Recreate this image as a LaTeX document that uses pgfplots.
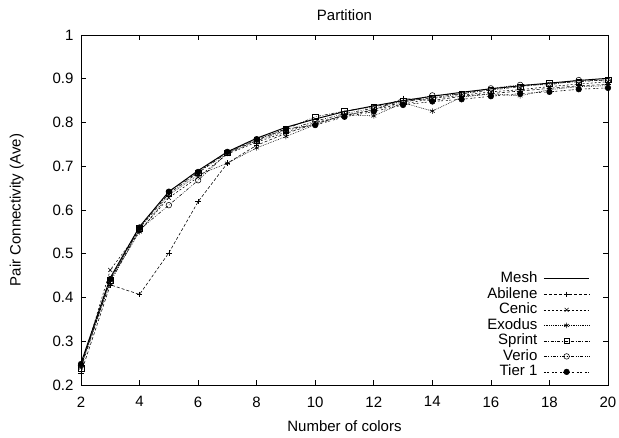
\documentclass[border=0pt]{standalone}
\usepackage{fontspec}
\setmainfont{Liberation Sans}
\usepackage{pgfplots}
\pgfplotsset{compat=1.18}
\usetikzlibrary{calc}

\begin{document}
\begin{tikzpicture}
\begin{axis}[
  scale only axis,
  width=527pt, height=350pt,
  xmin=2, xmax=20, ymin=0.2, ymax=1,
  xtick={2,4,...,20},
  ytick={0.2,0.3,0.4,0.5,0.6,0.7,0.8,0.9,1},
  /pgf/number format/assume math mode=true,
  yticklabel style={/pgf/number format/fixed, xshift=-4pt},
  xticklabel style={yshift=-8pt},
  tick label style={font=\fontsize{15}{17}\selectfont},
  label style={font=\fontsize{15}{17}\selectfont},
  title style={font=\fontsize{15}{17}\selectfont, yshift=5pt},
  title={Partition},
  xlabel={Number of colors},
  ylabel={Pair Connectivity (Ave)},
  xlabel style={yshift=-7pt},
  ylabel style={yshift=22pt},
  major tick length=5pt,
  tick style={black, line width=0.6pt},
  axis line style={line width=0.9pt},
  every axis plot/.append style={black, line width=0.55pt, mark size=2.8pt, mark options={solid}},
  legend style={draw=none, fill=none, at={(0.966,0.015)}, anchor=south east,
    font=\fontsize{15}{17}\selectfont, row sep=0.2pt, column sep=5pt, inner sep=0pt,
    nodes={inner sep=1pt, text height=10.3pt, text depth=3pt}},
  legend cell align=right,
  legend plot pos=right,
  legend image code/.code={\draw[mark repeat=2,mark phase=2] plot coordinates {(0cm,0cm) (0.8cm,0cm) (1.6cm,0cm)};},
]
% Mesh
\addplot[line width=1pt, no marks] coordinates {
 (2,0.250) (3,0.445) (4,0.562) (5,0.642) (6,0.690) (7,0.733) (8,0.764) (9,0.789) (10,0.808)
 (11,0.825) (12,0.838) (13,0.850) (14,0.860) (15,0.869) (16,0.877) (17,0.884) (18,0.890) (19,0.896) (20,0.901)};
\addlegendentry{Mesh}
% Abilene
\addplot[dash pattern=on 3pt off 2pt, mark=+] coordinates {
 (2,0.227) (3,0.429) (4,0.407) (5,0.502) (6,0.619) (7,0.707) (8,0.748) (9,0.775) (10,0.797)
 (11,0.817) (12,0.828) (13,0.855) (14,0.850) (15,0.860) (16,0.866) (17,0.872) (18,0.878) (19,0.884) (20,0.887)};
\addlegendentry{Abilene}
% Cenic
\addplot[dash pattern=on 2pt off 2pt, mark=x] coordinates {
 (2,0.240) (3,0.463) (4,0.552) (5,0.628) (6,0.675) (7,0.728) (8,0.755) (9,0.778) (10,0.800)
 (11,0.815) (12,0.830) (13,0.842) (14,0.855) (15,0.862) (16,0.870) (17,0.875) (18,0.882) (19,0.888) (20,0.893)};
\addlegendentry{Cenic}
% Exodus
\addplot[dash pattern=on 0.8pt off 1pt, mark=asterisk] coordinates {
 (2,0.245) (3,0.440) (4,0.550) (5,0.635) (6,0.680) (7,0.707) (8,0.742) (9,0.768) (10,0.795)
 (11,0.818) (12,0.815) (13,0.845) (14,0.826) (15,0.858) (16,0.865) (17,0.861) (18,0.875) (19,0.882) (20,0.884)};
\addlegendentry{Exodus}
% Sprint
\addplot[dash pattern=on 3pt off 1.5pt on 0.8pt off 1.5pt, mark=square] coordinates {
 (2,0.238) (3,0.440) (4,0.558) (5,0.638) (6,0.685) (7,0.731) (8,0.760) (9,0.785) (10,0.813)
 (11,0.826) (12,0.836) (13,0.848) (14,0.856) (15,0.866) (16,0.874) (17,0.882) (18,0.889) (19,0.893) (20,0.898)};
\addlegendentry{Sprint}
% Verio
\addplot[dash pattern=on 3pt off 1.5pt on 0.8pt off 1.5pt on 0.8pt off 1.5pt, mark=o] coordinates {
 (2,0.245) (3,0.435) (4,0.555) (5,0.611) (6,0.668) (7,0.730) (8,0.758) (9,0.782) (10,0.803)
 (11,0.820) (12,0.833) (13,0.845) (14,0.862) (15,0.865) (16,0.878) (17,0.886) (18,0.886) (19,0.897) (20,0.895)};
\addlegendentry{Verio}
% Tier 1
\addplot[dash pattern=on 2pt off 1.2pt on 2pt off 3pt, mark=*] coordinates {
 (2,0.248) (3,0.442) (4,0.560) (5,0.642) (6,0.687) (7,0.733) (8,0.762) (9,0.785) (10,0.794)
 (11,0.813) (12,0.825) (13,0.840) (14,0.848) (15,0.853) (16,0.860) (17,0.866) (18,0.870) (19,0.876) (20,0.879)};
\addlegendentry{Tier 1}
\end{axis}
\pgfresetboundingbox
\path ($(current axis.south west)+(-81pt,-53pt)$) rectangle ++(619pt,438pt);
\end{tikzpicture}
\end{document}
